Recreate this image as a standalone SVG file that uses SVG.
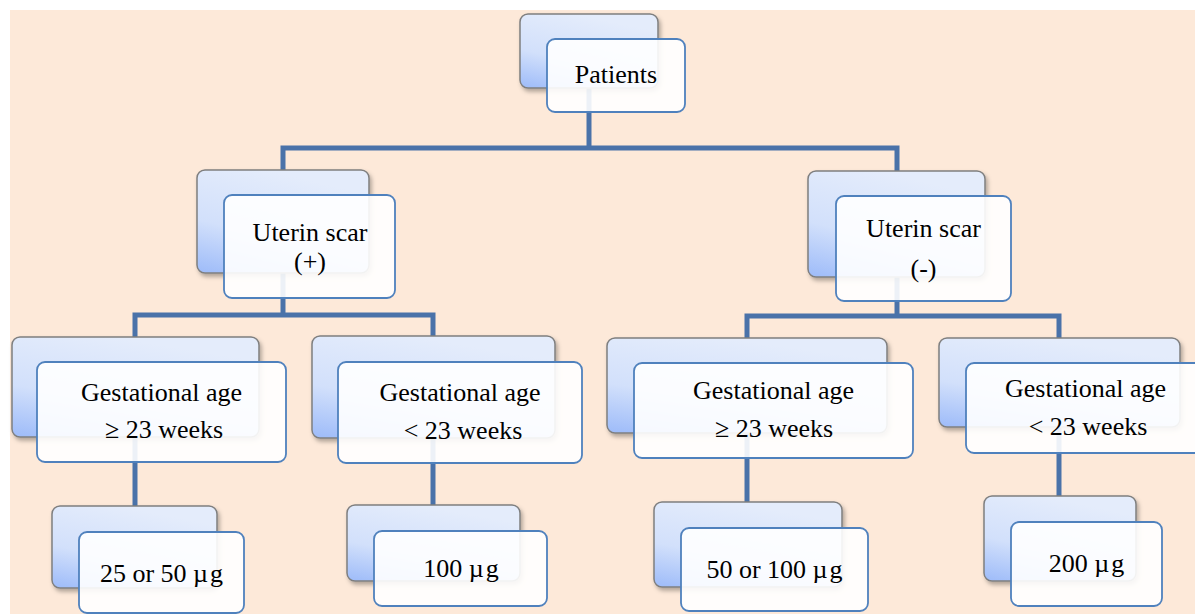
<svg xmlns="http://www.w3.org/2000/svg" width="1195" height="614" viewBox="0 0 1195 614">
<defs>
<linearGradient id="bg" x1="0.4" y1="0" x2="0" y2="1">
<stop offset="0" stop-color="#E4ECFB"/>
<stop offset="0.55" stop-color="#D2E0FB"/>
<stop offset="1" stop-color="#9DBBF9"/>
</linearGradient>
<filter id="sh" x="-10%" y="-10%" width="125%" height="130%">
<feDropShadow dx="2" dy="3" stdDeviation="2" flood-color="#000" flood-opacity="0.3"/>
</filter>
<style>
.back{fill:url(#bg);stroke:#7F7F7F;stroke-width:1.5;filter:url(#sh)}
.front{fill:#FFFFFF;fill-opacity:0.9;stroke:#4F81BD;stroke-width:1.8}
.t{font-family:"Liberation Serif","Times New Roman",serif;font-size:26px;fill:#000;text-anchor:middle}
.c{fill:none;stroke:#4A72A9;stroke-width:5}
</style>
</defs>
<rect x="10" y="10" width="1185" height="604" fill="#FDE9D9"/>
<g id="connectors">
<path class="c" d="M589,88 V148"/>
<path class="c" d="M283,170 V148 H897 V171"/>
<path class="c" d="M283,273 V315"/>
<path class="c" d="M135,337 V315 H433 V336"/>
<path class="c" d="M897,277 V316"/>
<path class="c" d="M747,338 V316 H1059 V338"/>
<path class="c" d="M135,437 V506"/>
<path class="c" d="M433,438 V505"/>
<path class="c" d="M747,433 V502"/>
<path class="c" d="M1059,427 V496"/>
</g>
<g id="patients">
<rect class="back" x="520" y="14" width="138" height="74" rx="8"/>
<rect class="front" x="547" y="39" width="138" height="73" rx="8"/>
<text class="t" x="616" y="83">Patients</text>
</g>
<g id="scar-pos">
<rect class="back" x="197" y="170" width="172" height="103" rx="8"/>
<rect class="front" x="224" y="195" width="171" height="103" rx="8"/>
<text class="t" x="310" y="241">Uterin scar</text>
<text class="t" x="310" y="270">(+)</text>
</g>
<g id="scar-neg">
<rect class="back" x="808" y="171" width="177" height="106" rx="8"/>
<rect class="front" x="836" y="196" width="175" height="105" rx="8"/>
<text class="t" x="923.5" y="237">Uterin scar</text>
<text class="t" x="923.5" y="277">(-)</text>
</g>
<g id="ga1">
<rect class="back" x="12" y="337" width="247" height="100" rx="8"/>
<rect class="front" x="37" y="362" width="249" height="100" rx="8"/>
<text class="t" x="161.5" y="401">Gestational age</text>
<text class="t" x="164" y="438">≥ 23 weeks</text>
</g>
<g id="ga2">
<rect class="back" x="312" y="336" width="243" height="102" rx="8"/>
<rect class="front" x="338" y="362" width="244" height="101" rx="8"/>
<text class="t" x="460" y="401">Gestational age</text>
<text class="t" x="463" y="439">&lt; 23 weeks</text>
</g>
<g id="ga3">
<rect class="back" x="607" y="338" width="280" height="95" rx="8"/>
<rect class="front" x="634" y="363" width="279" height="95" rx="8"/>
<text class="t" x="773.5" y="399">Gestational age</text>
<text class="t" x="774" y="437">≥ 23 weeks</text>
</g>
<g id="ga4">
<rect class="back" x="939" y="338" width="241" height="89" rx="8"/>
<rect class="front" x="966" y="363" width="239" height="90" rx="8"/>
<text class="t" x="1085.5" y="397">Gestational age</text>
<text class="t" x="1088" y="435">&lt; 23 weeks</text>
</g>
<g id="dose1">
<rect class="back" x="52" y="506" width="165" height="82" rx="8"/>
<rect class="front" x="79" y="532" width="165" height="81" rx="8"/>
<text class="t" x="161.5" y="582">25 or 50 µ<tspan dx="2">g</tspan></text>
</g>
<g id="dose2">
<rect class="back" x="347" y="505" width="173" height="76" rx="8"/>
<rect class="front" x="374" y="531" width="173" height="75" rx="8"/>
<text class="t" x="461" y="577">100 µ<tspan dx="2">g</tspan></text>
</g>
<g id="dose3">
<rect class="back" x="654" y="502" width="188" height="85" rx="8"/>
<rect class="front" x="681" y="528" width="187" height="83" rx="8"/>
<text class="t" x="774.5" y="578">50 or 100 µ<tspan dx="2">g</tspan></text>
</g>
<g id="dose4">
<rect class="back" x="984" y="496" width="152" height="85" rx="8"/>
<rect class="front" x="1011" y="522" width="151" height="84" rx="8"/>
<text class="t" x="1086.5" y="572">200 µ<tspan dx="2">g</tspan></text>
</g>
</svg>
